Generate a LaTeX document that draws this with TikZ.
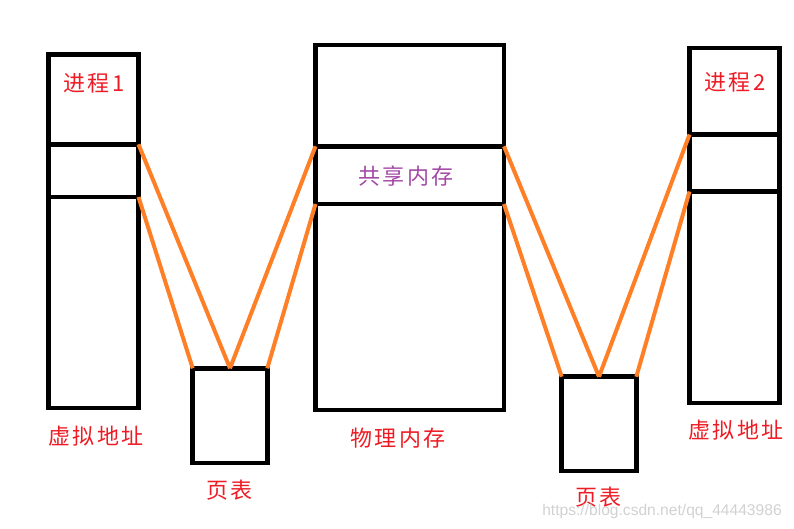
\documentclass[tikz,border=0pt]{standalone}
\usepackage{fontspec}
\newfontfamily\cjk[LetterSpace=10]{Noto Sans CJK SC}
\newfontfamily\wm{Liberation Sans}
\definecolor{pred}{HTML}{ED1C24}
\definecolor{ppurple}{HTML}{A349A4}
\definecolor{porange}{HTML}{FF7F27}
\begin{document}
\begin{tikzpicture}[x=1pt,y=-1pt,
  box/.style={draw=black,line width=4.5pt,inner sep=0pt,outer sep=0pt,fill=none},
  divider/.style={draw=black,line width=4.5pt},
  link/.style={draw=porange,line width=4pt},
  lbl/.style={inner sep=0pt,font=\cjk\fontsize{22}{24}\selectfont},
  wmark/.style={inner sep=0pt,text=black!18,font=\wm\fontsize{15.6}{18}\selectfont}]
\useasboundingbox (0,0) rectangle (794,528);
% boxes
\node[box,minimum width=90pt,minimum height=353.5pt] (v1) at (93.5,231.25) {};
\node[box,minimum width=188.5pt,minimum height=365pt] (pm) at (409.75,227.5) {};
\node[box,minimum width=90pt,minimum height=355pt] (v2) at (734.5,225.5) {};
\node[box,minimum width=74.6pt,minimum height=94.7pt] (pt1) at (230,415.65) {};
\node[box,minimum width=74.6pt,minimum height=94.3pt] (pt2) at (599,423.85) {};
% divider end points
\coordinate (v1aW) at (48.5,144.3);  \coordinate (v1aE) at (138.5,144.3);
\coordinate (v1bW) at (48.5,197);    \coordinate (v1bE) at (138.5,197);
\coordinate (pmaW) at (315.5,146.3); \coordinate (pmaE) at (504,146.3);
\coordinate (pmbW) at (315.5,204);   \coordinate (pmbE) at (504,204);
\coordinate (v2aW) at (689.5,134.5); \coordinate (v2aE) at (779.5,134.5);
\coordinate (v2bW) at (689.5,191.5); \coordinate (v2bE) at (779.5,191.5);
\draw[divider] (v1aW) -- (v1aE);
\draw[divider] (v1bW) -- (v1bE);
\draw[divider] (pmaW) -- (pmaE);
\draw[divider] (pmbW) -- (pmbE);
\draw[divider] (v2aW) -- (v2aE);
\draw[divider] (v2bW) -- (v2bE);
% orange connectors
\draw[link] (v1aE) -- (pt1.north);
\draw[link] (v1bE) -- (pt1.north west);
\draw[link] (pt1.north) -- (pmaW);
\draw[link] (pt1.north east) -- (pmbW);
\draw[link] (pmaE) -- (pt2.north);
\draw[link] (pmbE) -- (pt2.north west);
\draw[link] (pt2.north) -- (v2aW);
\draw[link] (pt2.north east) -- (v2bW);
% labels
\node[lbl,text=pred] (t1) at (94,83) {进程1};
\node[lbl,text=pred] (t2) at (735,82) {进程2};
\node[lbl,text=ppurple] (t3) at (406,176) {共享内存};
\node[lbl,text=pred] (t4) at (96,436) {虚拟地址};
\node[lbl,text=pred] (t5) at (398,438) {物理内存};
\node[lbl,text=pred] (t6) at (736,430) {虚拟地址};
\node[lbl,text=pred] (t7) at (229.5,490) {页表};
\node[lbl,text=pred] (t8) at (598.5,497) {页表};
\node[wmark] (w) at (662,511) {https://blog.csdn.net/qq\_44443986};
\end{tikzpicture}
\end{document}
